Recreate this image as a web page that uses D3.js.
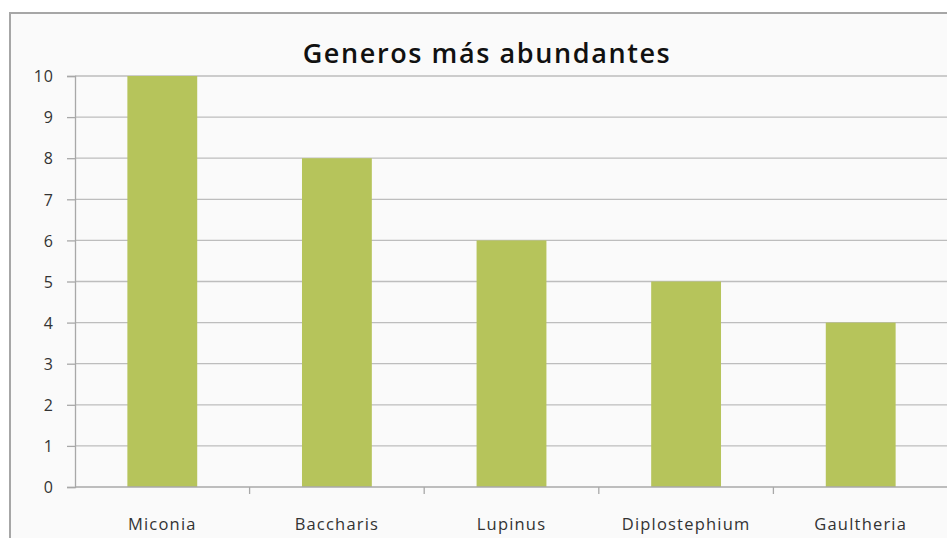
<!DOCTYPE html>
<html>
<head>
<meta charset="utf-8">
<script src="https://cdn.jsdelivr.net/npm/d3@7"></script>
<style>
  html, body { margin: 0; padding: 0; background: #fff; }
  svg { display: block; }
  .tick text { font-family: "Open Sans", "Noto Sans", sans-serif; fill: #333; }
</style>
</head>
<body>
<div id="chart"></div>
<script>
// data
const categories = ["Miconia", "Baccharis", "Lupinus", "Diplostephium", "Gaultheria"];
const values = [10, 8, 6, 5, 4];
const yTicks = [0, 1, 2, 3, 4, 5, 6, 7, 8, 9, 10];
const title = "Generos más abundantes";

const W = 947, H = 538;
const margin = { top: 76, right: -1, bottom: 51, left: 75 };

const svg = d3.select("#chart").append("svg")
    .attr("width", W)
    .attr("height", H);

// chart frame
svg.append("rect")
    .attr("x", 10).attr("y", 13)
    .attr("width", W + 20).attr("height", H + 20)
    .attr("fill", "#fafafa")
    .attr("stroke", "#a6a6a6")
    .attr("stroke-width", 2);

const x = d3.scaleBand()
    .domain(categories)
    .range([margin.left, W - margin.right])
    .paddingInner(0.6)
    .paddingOuter(0.3);

const y = d3.scaleLinear()
    .domain([0, 10])
    .range([H - margin.bottom, margin.top]);

// gridlines
svg.append("g")
    .selectAll("line")
    .data(yTicks.filter(d => d > 0))
    .join("line")
    .attr("x1", margin.left).attr("x2", W)
    .attr("y1", d => y(d)).attr("y2", d => y(d))
    .attr("stroke", "#bdbdbd")
    .attr("stroke-width", 1.3);

// bars
svg.append("g")
    .selectAll("rect")
    .data(values)
    .join("rect")
    .attr("x", (d, i) => x(categories[i]))
    .attr("y", d => y(d))
    .attr("width", x.bandwidth())
    .attr("height", d => y(0) - y(d))
    .attr("fill", "#b6c45b");

// y axis
const yAxis = svg.append("g")
    .attr("transform", `translate(${margin.left},0)`)
    .call(d3.axisLeft(y).tickValues(yTicks).tickSize(8).tickPadding(13));
yAxis.selectAll("line, path").attr("stroke", "#a8a8a8").attr("stroke-width", 1.3);
yAxis.selectAll("text")
    .style("font-size", "16px")
    .style("letter-spacing", "1px")
    .attr("dy", "0.36em");

// x axis: ticks between categories
const step = x.step();
const xb = d3.scaleLinear().domain([0, categories.length]).range([margin.left, margin.left + step * categories.length]);
const xAxis = svg.append("g")
    .attr("transform", `translate(0,${y(0)})`);
xAxis.append("line")
    .attr("x1", margin.left).attr("x2", W)
    .attr("stroke", "#a8a8a8").attr("stroke-width", 1.3);
xAxis.selectAll("line.tk")
    .data(d3.range(1, categories.length))
    .join("line")
    .attr("class", "tk")
    .attr("x1", d => xb(d)).attr("x2", d => xb(d))
    .attr("y1", 0).attr("y2", 7)
    .attr("stroke", "#a8a8a8").attr("stroke-width", 1.3);
xAxis.selectAll("text")
    .data(categories)
    .join("text")
    .attr("x", d => x(d) + x.bandwidth() / 2)
    .attr("y", 43)
    .attr("text-anchor", "middle")
    .style("font-family", '"Open Sans", "Noto Sans", sans-serif')
    .style("font-size", "16.5px")
    .style("letter-spacing", "1.2px")
    .attr("fill", "#333")
    .text(d => d);

// title
svg.append("text")
    .attr("x", 487)
    .attr("y", 63)
    .attr("text-anchor", "middle")
    .style("font-family", '"Open Sans", "Noto Sans", sans-serif')
    .style("font-size", "27px")
    .style("font-weight", 600)
    .style("letter-spacing", "1.6px")
    .attr("fill", "#111")
    .text(title);
</script>
</body>
</html>
